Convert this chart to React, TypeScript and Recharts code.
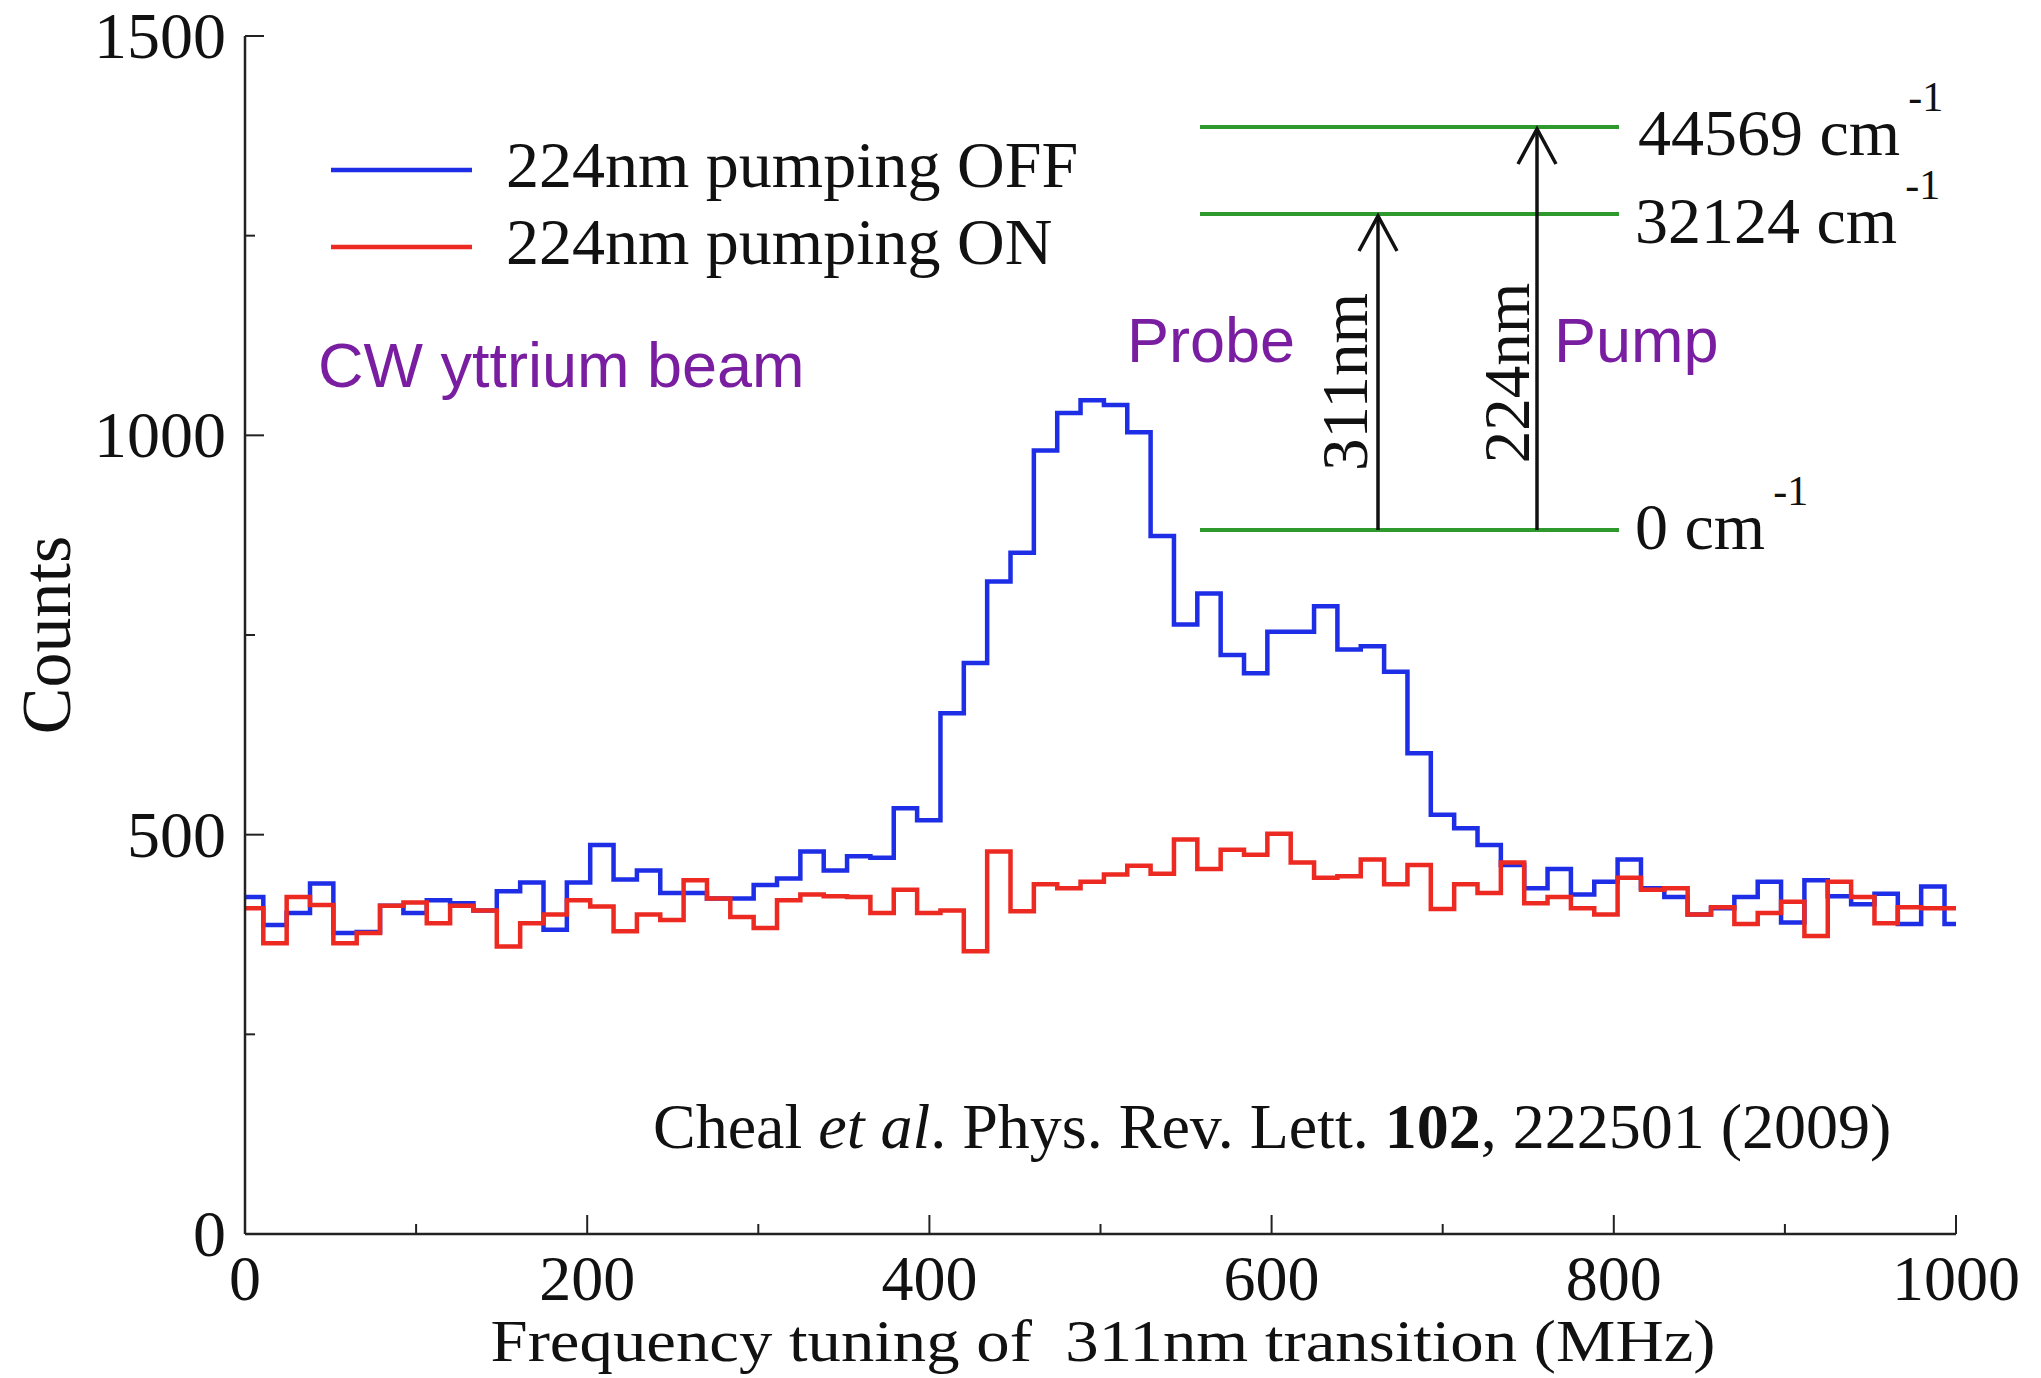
import React from 'react';
import { LineChart, Line, XAxis, YAxis } from 'recharts';

// ---------- data ----------
// Histogram bins (MHz): first bin starts at 0, subsequent bins start at regular edges
const FIRST_EDGE = 10.7;
const BIN_WIDTH = 13.647;
const X_MAX = 1000;

// 224nm pumping OFF (blue)
const countsOff = [
  422, 387, 402, 439, 377, 378, 411, 402, 418, 414,
  405, 429, 440, 381, 440, 487, 444, 455, 427, 427,
  420, 420, 437, 445, 479, 455, 473, 471, 533, 518,
  652, 715, 817, 853, 981, 1028, 1044, 1038, 1004, 874,
  763, 802, 725, 702, 754, 754, 786, 732, 736, 704,
  602, 525, 508, 487, 462, 433, 457, 425, 441, 469,
  433, 422, 400, 408, 422, 441, 390, 443, 423, 413,
  426, 388, 435, 388,
];

// 224nm pumping ON (red)
const countsOn = [
  408, 364, 422, 412, 364, 377, 411, 415, 389, 411,
  405, 360, 389, 400, 418, 410, 379, 400, 393, 443,
  420, 397, 383, 418, 425, 423, 422, 402, 431, 402,
  405, 354, 479, 404, 438, 433, 441, 450, 461, 451,
  494, 457, 481, 475, 501, 465, 446, 448, 469, 438,
  462, 407, 438, 427, 465, 414, 422, 408, 400, 446,
  431, 433, 400, 409, 388, 402, 416, 373, 441, 422,
  389, 409, 408, 408,
];

const xTicks = [0, 100, 200, 300, 400, 500, 600, 700, 800, 900, 1000];
const xMajorTicks = [0, 200, 400, 600, 800, 1000];
const yTicks = [0, 250, 500, 750, 1000, 1250, 1500];
const yMajorTicks = [0, 500, 1000, 1500];

const seriesNames = ['224nm pumping OFF', '224nm pumping ON'];
const levelLabels = ['44569 cm', '32124 cm', '0 cm'];

const binStarts = countsOff.map((_, i) => (i === 0 ? 0 : FIRST_EDGE + (i - 1) * BIN_WIDTH));
const data = binStarts
  .map((f, i) => ({ freq: f, off: countsOff[i], on: countsOn[i] }))
  .concat([{ freq: X_MAX, off: countsOff[countsOff.length - 1], on: countsOn[countsOn.length - 1] }]);

// ---------- styles ----------
const W = 2041;
const H = 1378;
const SERIF = '"Liberation Serif", "DejaVu Serif", serif';
const SANS = '"Liberation Sans", Arial, sans-serif';
const AXIS = '#222';
const BLUE = '#1e2ee6';
const RED = '#ec2a22';
const GREEN = '#2e9a2e';
const PURPLE = '#7a1ea1';
const MAJ = 19;
const MIN = 10;

const BottomTick = (props: any) => {
  const { x, y, payload } = props;
  const major = xMajorTicks.includes(payload.value);
  return (
    <g>
      <line x1={x} x2={x} y1={y} y2={y - (major ? MAJ : MIN)} stroke={AXIS} strokeWidth={2} />
      {major && (
        <text x={x} y={y + 66} textAnchor="middle" fontFamily={SERIF} fontSize={64} fill="#111">
          {payload.value}
        </text>
      )}
    </g>
  );
};

const TopTick = (props: any) => {
  const { x, y, payload } = props;
  const major = xMajorTicks.includes(payload.value);
  return <line x1={x} x2={x} y1={y} y2={y + (major ? MAJ : MIN)} stroke={AXIS} strokeWidth={2} />;
};

const LeftTick = (props: any) => {
  const { x, y, payload } = props;
  const major = yMajorTicks.includes(payload.value);
  return (
    <g>
      <line x1={x} x2={x + (major ? MAJ : MIN)} y1={y} y2={y} stroke={AXIS} strokeWidth={2} />
      {major && (
        <text x={x - 19} y={y + 22} textAnchor="end" fontFamily={SERIF} fontSize={66} fill="#111">
          {payload.value}
        </text>
      )}
    </g>
  );
};

const RightTick = (props: any) => {
  const { x, y, payload } = props;
  const major = yMajorTicks.includes(payload.value);
  return <line x1={x} x2={x - (major ? MAJ : MIN)} y1={y} y2={y} stroke={AXIS} strokeWidth={2} />;
};

const Overlay = () => (
  <svg
    width={W}
    height={H}
    style={{ position: 'absolute', left: 0, top: 0, pointerEvents: 'none' }}
  >
    {/* axis titles */}
    <text
      x={1103}
      y={1361}
      textAnchor="middle"
      fontFamily={SERIF}
      fontSize={60}
      fill="#111"
      textLength={1225}
      lengthAdjust="spacingAndGlyphs"
      style={{ whiteSpace: 'pre' }}
    >
      {'Frequency tuning of  311nm transition (MHz)'}
    </text>
    <text
      x={70}
      y={635}
      textAnchor="middle"
      fontFamily={SERIF}
      fontSize={70}
      fill="#111"
      transform="rotate(-90 70 635)"
    >
      Counts
    </text>

    {/* legend */}
    <line x1={331} x2={472} y1={170} y2={170} stroke={BLUE} strokeWidth={4.5} />
    <text x={506} y={187} fontFamily={SERIF} fontSize={66} fill="#111">{seriesNames[0]}</text>
    <line x1={331} x2={472} y1={247} y2={247} stroke={RED} strokeWidth={4.5} />
    <text x={506} y={264} fontFamily={SERIF} fontSize={66} fill="#111">{seriesNames[1]}</text>

    {/* purple annotations */}
    <text x={318} y={387} fontFamily={SANS} fontSize={63} fill={PURPLE}>CW yttrium beam</text>
    <text x={1127} y={362} fontFamily={SANS} fontSize={63} fill={PURPLE}>Probe</text>
    <text x={1554} y={362} fontFamily={SANS} fontSize={63} fill={PURPLE}>Pump</text>

    {/* level diagram */}
    <line x1={1200} x2={1619} y1={127} y2={127} stroke={GREEN} strokeWidth={4} />
    <line x1={1200} x2={1619} y1={214} y2={214} stroke={GREEN} strokeWidth={4} />
    <line x1={1200} x2={1619} y1={530} y2={530} stroke={GREEN} strokeWidth={4} />

    <line x1={1378} x2={1378} y1={530} y2={216} stroke="#111" strokeWidth={3.5} />
    <polyline points="1359,251 1378,216 1397,251" fill="none" stroke="#111" strokeWidth={3.5} />
    <line x1={1537} x2={1537} y1={530} y2={129} stroke="#111" strokeWidth={3.5} />
    <polyline points="1518,164 1537,129 1556,164" fill="none" stroke="#111" strokeWidth={3.5} />

    <text
      x={1367}
      y={382}
      textAnchor="middle"
      fontFamily={SERIF}
      fontSize={65}
      fill="#111"
      transform="rotate(-90 1367 382)"
    >
      311nm
    </text>
    <text
      x={1529}
      y={373}
      textAnchor="middle"
      fontFamily={SERIF}
      fontSize={65}
      fill="#111"
      transform="rotate(-90 1529 373)"
    >
      224nm
    </text>

    <text x={1638} y={155} fontFamily={SERIF} fontSize={66} fill="#111">
      {levelLabels[0]}
      <tspan dx={8} dy={-44} fontSize={42}>-1</tspan>
    </text>
    <text x={1635} y={243} fontFamily={SERIF} fontSize={66} fill="#111">
      {levelLabels[1]}
      <tspan dx={8} dy={-44} fontSize={42}>-1</tspan>
    </text>
    <text x={1635} y={549} fontFamily={SERIF} fontSize={66} fill="#111">
      {levelLabels[2]}
      <tspan dx={8} dy={-44} fontSize={42}>-1</tspan>
    </text>

    {/* citation */}
    <text x={653} y={1148} fontFamily={SERIF} fontSize={64} fill="#111" style={{ whiteSpace: 'pre' }}>
      {'Cheal '}
      <tspan fontStyle="italic">et al</tspan>
      {'. Phys. Rev. Lett. '}
      <tspan fontWeight="bold">102</tspan>
      {', 222501 (2009)'}
    </text>
  </svg>
);

export default function App() {
  return (
    <div
      style={{
        position: 'absolute',
        left: 0,
        top: 0,
        width: W,
        height: H,
        background: '#fff',
        fontFamily: SERIF,
      }}
    >
      <LineChart width={W} height={H} data={data} margin={{ top: 36, right: 85, left: 0, bottom: 0 }}>
        <XAxis
          dataKey="freq"
          type="number"
          domain={[0, X_MAX]}
          ticks={xTicks}
          interval={0}
          height={144}
          tickSize={0}
          tickMargin={0}
          tickLine={false}
          axisLine={{ stroke: AXIS, strokeWidth: 2.5 }}
          tick={BottomTick}
          allowDataOverflow
        />
        <XAxis
          xAxisId="top"
          orientation="top"
          dataKey="freq"
          type="number"
          domain={[0, X_MAX]}
          ticks={xTicks}
          interval={0}
          height={0}
          tickSize={0}
          tickMargin={0}
          tickLine={false}
          axisLine={{ stroke: AXIS, strokeWidth: 2.5 }}
          tick={TopTick}
          allowDataOverflow
        />
        <YAxis
          type="number"
          domain={[0, 1500]}
          ticks={yTicks}
          interval={0}
          width={245}
          tickSize={0}
          tickMargin={0}
          tickLine={false}
          axisLine={{ stroke: AXIS, strokeWidth: 2.5 }}
          tick={LeftTick}
          allowDataOverflow
        />
        <YAxis
          yAxisId="right"
          orientation="right"
          type="number"
          domain={[0, 1500]}
          ticks={yTicks}
          interval={0}
          width={0}
          tickSize={0}
          tickMargin={0}
          tickLine={false}
          axisLine={{ stroke: AXIS, strokeWidth: 2.5 }}
          tick={RightTick}
          allowDataOverflow
        />
        <Line
          dataKey="off"
          type="stepAfter"
          stroke={BLUE}
          strokeWidth={4.5}
          dot={false}
          activeDot={false}
          isAnimationActive={false}
        />
        <Line
          dataKey="on"
          type="stepAfter"
          stroke={RED}
          strokeWidth={4.5}
          dot={false}
          activeDot={false}
          isAnimationActive={false}
        />
      </LineChart>
      <Overlay />
    </div>
  );
}
